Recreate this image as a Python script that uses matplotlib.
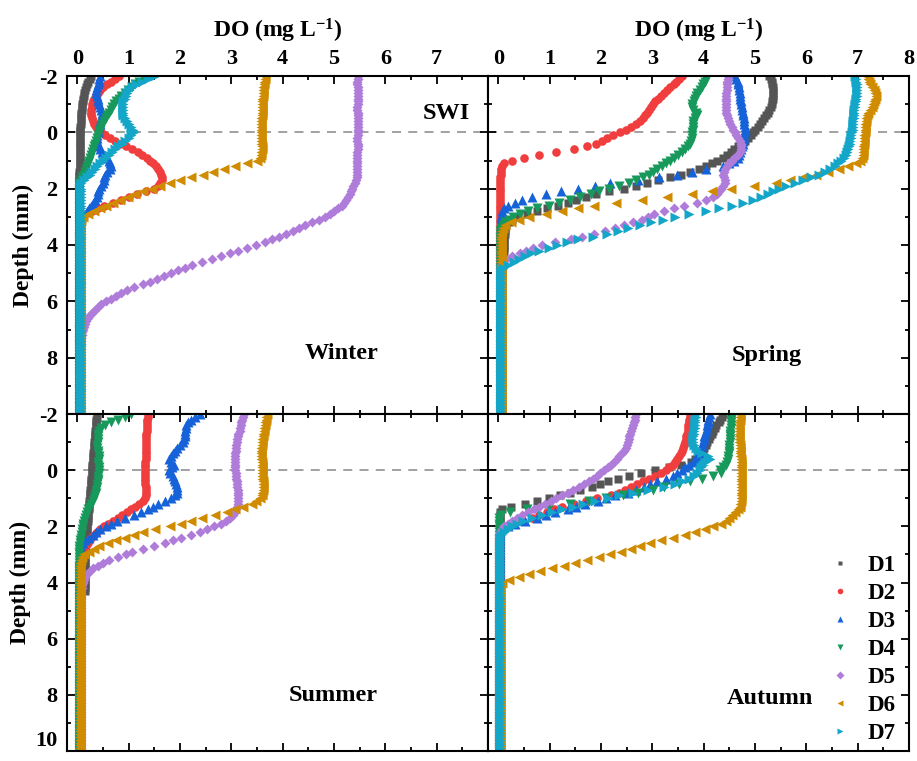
import numpy as np
import matplotlib.pyplot as plt
from matplotlib.ticker import MultipleLocator, FixedLocator

# Глубина, мм (шаг 0.1 мм, от -2 до 10)
depth = np.round(np.arange(-2.0, 10.05, 0.1), 1)

names = ['D1', 'D2', 'D3', 'D4', 'D5', 'D6', 'D7']
markers = ['s', 'o', '^', 'v', 'D', '<', '>']
colors = ['#555555', '#F03E3E', '#1662D8', '#17995C', '#B07CDA', '#D08C00', '#13A6C8']
sizes = [5.5, 6.2, 7.5, 7.5, 5.6, 7.5, 7.5]

# ---------------- Winter ----------------
winter_d1 = [
    0.27, 0.24, 0.21, 0.19, 0.17, 0.15, 0.14, 0.13, 0.12, 0.11,
    0.10, 0.09, 0.09, 0.08, 0.08, 0.07, 0.07, 0.07, 0.06, 0.06,
    0.06, 0.06, 0.06, 0.05, 0.05, 0.05, 0.05, 0.05, 0.05, 0.05,
    0.05, 0.05, 0.05, 0.05, 0.04, 0.04, 0.04, 0.04, 0.04, 0.04,
    0.04, 0.04, 0.04, 0.04, 0.04, 0.04, 0.04, 0.04, 0.04, 0.04,
    0.03, 0.03, 0.03, 0.03, 0.03, 0.03, 0.03, 0.03, 0.03, 0.03,
    0.03, 0.03, 0.03, 0.03, 0.03, 0.03, 0.03, 0.03, 0.03, 0.03,
    0.03, 0.03, 0.03, 0.03, 0.03, 0.03, 0.03, 0.03, 0.03, 0.03,
    0.03, 0.03, 0.03, 0.03, 0.03, 0.03, 0.03, 0.03, 0.03, 0.03,
    0.03, 0.03, 0.03, 0.03, 0.03, 0.03, 0.03, 0.03, 0.03, 0.03,
    0.03, 0.03, 0.03, 0.03, 0.03, 0.03, 0.03, 0.03, 0.03, 0.03,
    0.03, 0.03, 0.03, 0.03, 0.03, 0.03, 0.03, 0.03, 0.03, 0.03,
    0.03]
winter_d2 = [
    0.82, 0.74, 0.66, 0.58, 0.51, 0.45, 0.40, 0.36, 0.33, 0.31,
    0.29, 0.28, 0.27, 0.26, 0.27, 0.28, 0.30, 0.33, 0.37, 0.41,
    0.46, 0.54, 0.64, 0.74, 0.84, 0.94, 1.06, 1.18, 1.27, 1.35,
    1.42, 1.48, 1.53, 1.58, 1.62, 1.64, 1.65, 1.65, 1.62, 1.57,
    1.50, 1.33, 1.16, 1.00, 0.86, 0.70, 0.53, 0.40, 0.28, 0.16,
    0.08, 0.05, 0.04, 0.04, 0.04, 0.04, 0.04, 0.04, 0.04, 0.04,
    0.04, 0.04, 0.04, 0.04, 0.04, 0.04, 0.04, 0.04, 0.04, 0.04,
    0.04, 0.04, 0.04, 0.04, 0.04, 0.04, 0.04, 0.04, 0.04, 0.04,
    0.04, 0.04, 0.04, 0.04, 0.04, 0.04, 0.04, 0.04, 0.04, 0.04,
    0.04, 0.04, 0.04, 0.04, 0.04, 0.04, 0.04, 0.04, 0.04, 0.04,
    0.04, 0.04, 0.04, 0.04, 0.04, 0.04, 0.04, 0.04, 0.04, 0.04,
    0.04, 0.04, 0.04, 0.04, 0.04, 0.04, 0.04, 0.04, 0.04, 0.04,
    0.04]
winter_d3 = [
    0.44, 0.43, 0.42, 0.40, 0.38, 0.37, 0.37, 0.38, 0.40, 0.41,
    0.42, 0.44, 0.46, 0.48, 0.48, 0.47, 0.45, 0.44, 0.42, 0.41,
    0.40, 0.39, 0.39, 0.39, 0.40, 0.42, 0.44, 0.48, 0.52, 0.57,
    0.61, 0.64, 0.65, 0.63, 0.58, 0.54, 0.52, 0.53, 0.50, 0.46,
    0.43, 0.41, 0.40, 0.38, 0.35, 0.31, 0.27, 0.23, 0.18, 0.12,
    0.07, 0.05, 0.05, 0.05, 0.05, 0.05, 0.05, 0.05, 0.05, 0.05,
    0.05, 0.05, 0.05, 0.05, 0.05, 0.05, 0.05, 0.05, 0.05, 0.05,
    0.05, 0.05, 0.05, 0.05, 0.05, 0.05, 0.05, 0.05, 0.05, 0.05,
    0.05, 0.05, 0.05, 0.05, 0.05, 0.05, 0.05, 0.05, 0.05, 0.05,
    0.05, 0.05, 0.05, 0.05, 0.05, 0.05, 0.05, 0.05, 0.05, 0.05,
    0.05, 0.05, 0.05, 0.05, 0.05, 0.05, 0.05, 0.05, 0.05, 0.05,
    0.05, 0.05, 0.05, 0.05, 0.05, 0.05, 0.05, 0.05, 0.05, 0.05,
    0.05]
winter_d4 = [
    1.40, 1.30, 1.21, 1.13, 1.06, 0.99, 0.92, 0.86, 0.81, 0.76,
    0.71, 0.68, 0.65, 0.62, 0.58, 0.55, 0.52, 0.49, 0.47, 0.44,
    0.42, 0.40, 0.38, 0.36, 0.34, 0.32, 0.30, 0.28, 0.26, 0.25,
    0.23, 0.21, 0.19, 0.17, 0.15, 0.13, 0.10, 0.07, 0.04, 0.03,
    0.03, 0.03, 0.03, 0.03, 0.03, 0.03, 0.03, 0.03, 0.03, 0.03,
    0.03, 0.03, 0.03, 0.03, 0.03, 0.03, 0.03, 0.03, 0.03, 0.03,
    0.03, 0.03, 0.03, 0.03, 0.03, 0.03, 0.03, 0.03, 0.03, 0.03,
    0.03, 0.03, 0.03, 0.03, 0.03, 0.03, 0.03, 0.03, 0.03, 0.03,
    0.03, 0.03, 0.03, 0.03, 0.03, 0.03, 0.03, 0.03, 0.03, 0.03,
    0.03, 0.03, 0.03, 0.03, 0.03, 0.03, 0.03, 0.03, 0.03, 0.03,
    0.03, 0.03, 0.03, 0.03, 0.03, 0.03, 0.03, 0.03, 0.03, 0.03,
    0.03, 0.03, 0.03, 0.03, 0.03, 0.03, 0.03, 0.03, 0.03, 0.03,
    0.03]
winter_d5 = [
    5.46, 5.46, 5.45, 5.45, 5.46, 5.46, 5.47, 5.47, 5.46, 5.46,
    5.46, 5.45, 5.45, 5.46, 5.46, 5.46, 5.47, 5.47, 5.46, 5.46,
    5.46, 5.46, 5.45, 5.45, 5.46, 5.46, 5.46, 5.45, 5.45, 5.45,
    5.45, 5.45, 5.45, 5.45, 5.45, 5.44, 5.44, 5.42, 5.40, 5.38,
    5.36, 5.34, 5.32, 5.28, 5.24, 5.20, 5.15, 5.08, 5.00, 4.92,
    4.82, 4.70, 4.57, 4.44, 4.32, 4.20, 4.07, 3.93, 3.79, 3.65,
    3.49, 3.31, 3.13, 2.97, 2.80, 2.62, 2.42, 2.23, 2.09, 1.96,
    1.82, 1.68, 1.55, 1.41, 1.28, 1.11, 0.96, 0.85, 0.75, 0.65,
    0.55, 0.47, 0.40, 0.34, 0.29, 0.25, 0.21, 0.17, 0.15, 0.13,
    0.12, 0.10, 0.09, 0.08, 0.07, 0.07, 0.06, 0.06, 0.06, 0.06,
    0.06, 0.06, 0.06, 0.06, 0.06, 0.06, 0.06, 0.06, 0.06, 0.06,
    0.06, 0.06, 0.06, 0.06, 0.06, 0.06, 0.06, 0.06, 0.06, 0.06,
    0.06]
winter_d6 = [
    3.66, 3.65, 3.64, 3.63, 3.62, 3.62, 3.61, 3.61, 3.60, 3.60,
    3.60, 3.59, 3.59, 3.59, 3.59, 3.58, 3.58, 3.58, 3.58, 3.58,
    3.58, 3.58, 3.58, 3.58, 3.58, 3.59, 3.59, 3.58, 3.57, 3.56,
    3.50, 3.30, 3.08, 2.86, 2.64, 2.44, 2.22, 2.00, 1.80, 1.62,
    1.45, 1.28, 1.12, 0.98, 0.84, 0.70, 0.56, 0.44, 0.32, 0.20,
    0.11, 0.07, 0.05, 0.05, 0.05, 0.05, 0.05, 0.05, 0.05, 0.05,
    0.05, 0.05, 0.05, 0.05, 0.05, 0.05, 0.05, 0.05, 0.05, 0.05,
    0.05, 0.05, 0.05, 0.05, 0.05, 0.05, 0.05, 0.05, 0.05, 0.05,
    0.05, 0.05, 0.05, 0.05, 0.05, 0.05, 0.05, 0.05, 0.05, 0.05,
    0.05, 0.05, 0.05, 0.05, 0.05, 0.05, 0.05, 0.05, 0.05, 0.05,
    0.05, 0.05, 0.05, 0.05, 0.05, 0.05, 0.05, 0.05, 0.05, 0.05,
    0.05, 0.05, 0.05, 0.05, 0.05, 0.05, 0.05, 0.05, 0.05, 0.05,
    0.05]
winter_d7 = [
    1.52, 1.38, 1.26, 1.15, 1.06, 1.01, 0.97, 0.94, 0.92, 0.90,
    0.89, 0.89, 0.89, 0.89, 0.90, 0.93, 0.97, 1.01, 1.05, 1.08,
    1.10, 1.05, 1.00, 0.93, 0.87, 0.80, 0.74, 0.67, 0.61, 0.55,
    0.50, 0.44, 0.39, 0.34, 0.29, 0.24, 0.19, 0.14, 0.08, 0.06,
    0.07, 0.07, 0.07, 0.07, 0.07, 0.07, 0.07, 0.07, 0.07, 0.07,
    0.07, 0.07, 0.07, 0.07, 0.07, 0.07, 0.07, 0.07, 0.07, 0.07,
    0.07, 0.07, 0.07, 0.07, 0.07, 0.07, 0.07, 0.07, 0.07, 0.07,
    0.07, 0.07, 0.07, 0.07, 0.07, 0.07, 0.07, 0.07, 0.07, 0.07,
    0.07, 0.07, 0.07, 0.07, 0.07, 0.07, 0.07, 0.07, 0.07, 0.07,
    0.07, 0.07, 0.07, 0.07, 0.07, 0.07, 0.07, 0.07, 0.07, 0.07,
    0.07, 0.07, 0.07, 0.07, 0.07, 0.07, 0.07, 0.07, 0.07, 0.07,
    0.07, 0.07, 0.07, 0.07, 0.07, 0.07, 0.07, 0.07, 0.07, 0.07,
    0.07]

# ---------------- Spring ----------------
spring_d1 = [
    5.28, 5.31, 5.33, 5.34, 5.35, 5.36, 5.36, 5.36, 5.35, 5.34,
    5.33, 5.31, 5.28, 5.25, 5.21, 5.17, 5.13, 5.09, 5.05, 5.01,
    4.96, 4.92, 4.87, 4.81, 4.74, 4.67, 4.60, 4.54, 4.46, 4.37,
    4.27, 4.16, 4.04, 3.90, 3.74, 3.56, 3.34, 3.12, 2.90, 2.68,
    2.45, 2.16, 1.90, 1.70, 1.52, 1.35, 1.16, 0.95, 0.76, 0.55,
    0.38, 0.27, 0.20, 0.16, 0.14, 0.13, 0.13, 0.12, 0.12, 0.12,
    0.11, 0.11, 0.11, 0.10, 0.10, 0.10, 0.10, 0.10, 0.08, 0.08,
    0.08, 0.08, 0.08, 0.08, 0.08, 0.08, 0.08, 0.08, 0.08, 0.08,
    0.08, 0.08, 0.08, 0.08, 0.08, 0.08, 0.08, 0.08, 0.08, 0.08,
    0.08, 0.08, 0.08, 0.08, 0.08, 0.08, 0.08, 0.08, 0.08, 0.08,
    0.08, 0.08, 0.08, 0.08, 0.08, 0.08, 0.08, 0.08, 0.08, 0.08,
    0.08, 0.08, 0.08, 0.08, 0.08, 0.08, 0.08, 0.08, 0.08, 0.08,
    0.08]
spring_d2 = [
    3.58, 3.52, 3.47, 3.42, 3.35, 3.29, 3.23, 3.17, 3.11, 3.06,
    3.01, 2.97, 2.93, 2.89, 2.85, 2.81, 2.76, 2.68, 2.59, 2.49,
    2.38, 2.24, 2.12, 2.02, 1.90, 1.72, 1.48, 1.12, 0.80, 0.50,
    0.26, 0.12, 0.08, 0.06, 0.05, 0.05, 0.04, 0.04, 0.04, 0.04,
    0.03, 0.03, 0.03, 0.03, 0.03, 0.03, 0.03, 0.03, 0.03, 0.03,
    0.03, 0.03, 0.03, 0.03, 0.03, 0.03, 0.03, 0.03, 0.03, 0.03,
    0.03, 0.03, 0.03, 0.03, 0.03, 0.03, 0.03, 0.03, 0.03, 0.03,
    0.03, 0.03, 0.03, 0.03, 0.03, 0.03, 0.03, 0.03, 0.03, 0.03,
    0.03, 0.03, 0.03, 0.03, 0.03, 0.03, 0.03, 0.03, 0.03, 0.03,
    0.03, 0.03, 0.03, 0.03, 0.03, 0.03, 0.03, 0.03, 0.03, 0.03,
    0.03, 0.03, 0.03, 0.03, 0.03, 0.03, 0.03, 0.03, 0.03, 0.03,
    0.03, 0.03, 0.03, 0.03, 0.03, 0.03, 0.03, 0.03, 0.03, 0.03,
    0.03]
spring_d3 = [
    4.62, 4.64, 4.66, 4.67, 4.68, 4.69, 4.70, 4.71, 4.71, 4.72,
    4.73, 4.74, 4.75, 4.76, 4.77, 4.78, 4.79, 4.79, 4.80, 4.80,
    4.80, 4.79, 4.78, 4.77, 4.76, 4.74, 4.72, 4.71, 4.69, 4.66,
    4.60, 4.50, 4.38, 4.05, 3.78, 3.48, 3.14, 2.72, 2.18, 1.88,
    1.55, 1.22, 0.92, 0.66, 0.47, 0.32, 0.19, 0.11, 0.08, 0.07,
    0.06, 0.06, 0.06, 0.06, 0.06, 0.06, 0.06, 0.06, 0.06, 0.06,
    0.06, 0.06, 0.06, 0.06, 0.06, 0.06, 0.06, 0.06, 0.06, 0.06,
    0.06, 0.06, 0.06, 0.06, 0.06, 0.06, 0.06, 0.06, 0.06, 0.06,
    0.06, 0.06, 0.06, 0.06, 0.06, 0.06, 0.06, 0.06, 0.06, 0.06,
    0.06, 0.06, 0.06, 0.06, 0.06, 0.06, 0.06, 0.06, 0.06, 0.06,
    0.06, 0.06, 0.06, 0.06, 0.06, 0.06, 0.06, 0.06, 0.06, 0.06,
    0.06, 0.06, 0.06, 0.06, 0.06, 0.06, 0.06, 0.06, 0.06, 0.06,
    0.06]
spring_d4 = [
    4.07, 4.05, 4.02, 3.99, 3.96, 3.92, 3.88, 3.85, 3.83, 3.81,
    3.78, 3.77, 3.80, 3.86, 3.88, 3.84, 3.80, 3.79, 3.80, 3.79,
    3.78, 3.78, 3.77, 3.76, 3.73, 3.69, 3.64, 3.58, 3.50, 3.42,
    3.35, 3.26, 3.18, 3.10, 3.02, 2.93, 2.82, 2.69, 2.54, 2.36,
    2.16, 1.97, 1.80, 1.60, 1.40, 1.19, 0.98, 0.76, 0.57, 0.42,
    0.29, 0.20, 0.14, 0.09, 0.06, 0.04, 0.04, 0.04, 0.04, 0.04,
    0.04, 0.04, 0.04, 0.04, 0.04, 0.04, 0.04, 0.04, 0.04, 0.04,
    0.04, 0.04, 0.04, 0.04, 0.04, 0.04, 0.04, 0.04, 0.04, 0.04,
    0.04, 0.04, 0.04, 0.04, 0.04, 0.04, 0.04, 0.04, 0.04, 0.04,
    0.04, 0.04, 0.04, 0.04, 0.04, 0.04, 0.04, 0.04, 0.04, 0.04,
    0.04, 0.04, 0.04, 0.04, 0.04, 0.04, 0.04, 0.04, 0.04, 0.04,
    0.04, 0.04, 0.04, 0.04, 0.04, 0.04, 0.04, 0.04, 0.04, 0.04,
    0.04]
spring_d5 = [
    4.47, 4.47, 4.46, 4.46, 4.45, 4.45, 4.44, 4.44, 4.43, 4.43,
    4.43, 4.43, 4.43, 4.44, 4.45, 4.47, 4.49, 4.52, 4.55, 4.58,
    4.61, 4.64, 4.67, 4.70, 4.72, 4.73, 4.72, 4.70, 4.66, 4.60,
    4.55, 4.50, 4.45, 4.41, 4.39, 4.38, 4.39, 4.42, 4.41, 4.37,
    4.34, 4.30, 4.26, 4.18, 4.05, 3.88, 3.62, 3.42, 3.22, 3.04,
    2.92, 2.80, 2.62, 2.45, 2.28, 2.08, 1.86, 1.64, 1.42, 1.10,
    0.85, 0.68, 0.54, 0.43, 0.26, 0.15, 0.09, 0.06, 0.05, 0.05,
    0.05, 0.05, 0.05, 0.05, 0.05, 0.05, 0.05, 0.05, 0.05, 0.05,
    0.05, 0.05, 0.05, 0.05, 0.05, 0.05, 0.05, 0.05, 0.05, 0.05,
    0.05, 0.05, 0.05, 0.05, 0.05, 0.05, 0.05, 0.05, 0.05, 0.05,
    0.05, 0.05, 0.05, 0.05, 0.05, 0.05, 0.05, 0.05, 0.05, 0.05,
    0.05, 0.05, 0.05, 0.05, 0.05, 0.05, 0.05, 0.05, 0.05, 0.05,
    0.05]
spring_d6 = [
    7.18, 7.20, 7.22, 7.25, 7.28, 7.31, 7.34, 7.35, 7.34, 7.32,
    7.30, 7.27, 7.24, 7.21, 7.19, 7.17, 7.16, 7.15, 7.15, 7.14,
    7.14, 7.13, 7.13, 7.12, 7.12, 7.11, 7.11, 7.10, 7.10, 7.08,
    7.04, 6.96, 6.82, 6.64, 6.42, 6.18, 5.94, 5.68, 5.40, 4.98,
    4.54, 4.16, 3.78, 3.28, 2.80, 2.30, 1.87, 1.55, 1.25, 0.92,
    0.60, 0.40, 0.25, 0.14, 0.10, 0.08, 0.06, 0.06, 0.06, 0.06,
    0.06, 0.06, 0.06, 0.06, 0.06, 0.06, 0.06, 0.06, 0.06, 0.06,
    0.06, 0.06, 0.06, 0.06, 0.06, 0.06, 0.06, 0.06, 0.06, 0.06,
    0.06, 0.06, 0.06, 0.06, 0.06, 0.06, 0.06, 0.06, 0.06, 0.06,
    0.06, 0.06, 0.06, 0.06, 0.06, 0.06, 0.06, 0.06, 0.06, 0.06,
    0.06, 0.06, 0.06, 0.06, 0.06, 0.06, 0.06, 0.06, 0.06, 0.06,
    0.06, 0.06, 0.06, 0.06, 0.06, 0.06, 0.06, 0.06, 0.06, 0.06,
    0.06]
spring_d7 = [
    6.95, 6.96, 6.97, 6.98, 6.99, 6.99, 6.99, 6.98, 6.97, 6.96,
    6.95, 6.94, 6.93, 6.93, 6.92, 6.92, 6.91, 6.91, 6.90, 6.90,
    6.89, 6.88, 6.87, 6.86, 6.85, 6.84, 6.82, 6.80, 6.77, 6.73,
    6.68, 6.62, 6.55, 6.46, 6.36, 6.24, 6.10, 5.94, 5.78, 5.60,
    5.46, 5.36, 5.26, 5.12, 4.96, 4.76, 4.55, 4.30, 4.05, 3.72,
    3.45, 3.20, 2.98, 2.76, 2.52, 2.33, 2.12, 1.84, 1.56, 1.34,
    1.14, 0.98, 0.80, 0.64, 0.52, 0.41, 0.30, 0.18, 0.09, 0.06,
    0.05, 0.05, 0.05, 0.05, 0.05, 0.05, 0.05, 0.05, 0.05, 0.05,
    0.05, 0.05, 0.05, 0.05, 0.05, 0.05, 0.05, 0.05, 0.05, 0.05,
    0.05, 0.05, 0.05, 0.05, 0.05, 0.05, 0.05, 0.05, 0.05, 0.05,
    0.05, 0.05, 0.05, 0.05, 0.05, 0.05, 0.05, 0.05, 0.05, 0.05,
    0.05, 0.05, 0.05, 0.05, 0.05, 0.05, 0.05, 0.05, 0.05, 0.05,
    0.05]

# ---------------- Summer (D7 нет) ----------------
summer_d1 = [
    0.38, 0.38, 0.37, 0.37, 0.36, 0.36, 0.35, 0.35, 0.34, 0.34,
    0.33, 0.33, 0.32, 0.32, 0.31, 0.31, 0.30, 0.30, 0.29, 0.29,
    0.28, 0.28, 0.28, 0.27, 0.27, 0.26, 0.26, 0.25, 0.25, 0.24,
    0.24, 0.23, 0.23, 0.22, 0.22, 0.21, 0.21, 0.20, 0.20, 0.19,
    0.19, 0.18, 0.18, 0.17, 0.17, 0.17, 0.16, 0.16, 0.16, 0.15,
    0.15, 0.15, 0.15, 0.15, 0.15, 0.15, 0.15, 0.15, 0.15, 0.15,
    0.15, 0.15, 0.15, 0.15]
summer_d2 = [
    1.38, 1.37, 1.36, 1.36, 1.35, 1.35, 1.35, 1.34, 1.34, 1.34,
    1.34, 1.34, 1.33, 1.33, 1.33, 1.33, 1.33, 1.32, 1.32, 1.32,
    1.32, 1.32, 1.32, 1.32, 1.32, 1.32, 1.33, 1.33, 1.33, 1.33,
    1.32, 1.28, 1.20, 1.12, 1.04, 0.96, 0.88, 0.80, 0.70, 0.60,
    0.52, 0.45, 0.38, 0.32, 0.27, 0.23, 0.20, 0.17, 0.14, 0.11,
    0.08, 0.06, 0.05, 0.04, 0.04, 0.04, 0.04, 0.04, 0.04, 0.04,
    0.04, 0.04, 0.04, 0.04, 0.04, 0.04, 0.04, 0.04, 0.04, 0.04,
    0.04, 0.04, 0.04, 0.04, 0.04, 0.04, 0.04, 0.04, 0.04, 0.04,
    0.04, 0.04, 0.04, 0.04, 0.04, 0.04, 0.04, 0.04, 0.04, 0.04,
    0.04, 0.04, 0.04, 0.04, 0.04, 0.04, 0.04, 0.04, 0.04, 0.04,
    0.04, 0.04, 0.04, 0.04, 0.04, 0.04, 0.04, 0.04, 0.04, 0.04,
    0.04, 0.04, 0.04, 0.04, 0.04, 0.04, 0.04, 0.04, 0.04, 0.04,
    0.04]
summer_d3 = [
    2.39, 2.30, 2.22, 2.16, 2.12, 2.11, 2.10, 2.10, 2.09, 2.08,
    2.05, 2.00, 1.95, 1.90, 1.86, 1.82, 1.79, 1.83, 1.88, 1.84,
    1.78, 1.80, 1.86, 1.89, 1.91, 1.93, 1.94, 1.94, 1.94, 1.90,
    1.82, 1.70, 1.58, 1.47, 1.37, 1.25, 1.10, 0.92, 0.78, 0.65,
    0.55, 0.45, 0.37, 0.30, 0.22, 0.15, 0.11, 0.08, 0.06, 0.05,
    0.05, 0.05, 0.05, 0.05, 0.05, 0.05, 0.05, 0.05, 0.05, 0.05,
    0.05, 0.05, 0.05, 0.05, 0.05, 0.05, 0.05, 0.05, 0.05, 0.05,
    0.05, 0.05, 0.05, 0.05, 0.05, 0.05, 0.05, 0.05, 0.05, 0.05,
    0.05, 0.05, 0.05, 0.05, 0.05, 0.05, 0.05, 0.05, 0.05, 0.05,
    0.05, 0.05, 0.05, 0.05, 0.05, 0.05, 0.05, 0.05, 0.05, 0.05,
    0.05, 0.05, 0.05, 0.05, 0.05, 0.05, 0.05, 0.05, 0.05, 0.05,
    0.05, 0.05, 0.05, 0.05, 0.05, 0.05, 0.05, 0.05, 0.05, 0.05,
    0.05]
summer_d4 = [
    1.05, 0.92, 0.80, 0.66, 0.54, 0.47, 0.43, 0.41, 0.40, 0.40,
    0.40, 0.39, 0.39, 0.40, 0.41, 0.42, 0.42, 0.41, 0.41, 0.42,
    0.42, 0.42, 0.41, 0.41, 0.40, 0.39, 0.38, 0.37, 0.36, 0.34,
    0.32, 0.30, 0.27, 0.24, 0.21, 0.19, 0.17, 0.15, 0.13, 0.12,
    0.11, 0.10, 0.09, 0.08, 0.07, 0.06, 0.05, 0.04, 0.03, 0.03,
    0.03, 0.03, 0.03, 0.03, 0.03, 0.03, 0.03, 0.03, 0.03, 0.03,
    0.03, 0.03, 0.03, 0.03, 0.03, 0.03, 0.03, 0.03, 0.03, 0.03,
    0.03, 0.03, 0.03, 0.03, 0.03, 0.03, 0.03, 0.03, 0.03, 0.03,
    0.03, 0.03, 0.03, 0.03, 0.03, 0.03, 0.03, 0.03, 0.03, 0.03,
    0.03, 0.03, 0.03, 0.03, 0.03, 0.03, 0.03, 0.03, 0.03, 0.03,
    0.03, 0.03, 0.03, 0.03, 0.03, 0.03, 0.03, 0.03, 0.03, 0.03,
    0.03, 0.03, 0.03, 0.03, 0.03, 0.03, 0.03, 0.03, 0.03, 0.03,
    0.03]
summer_d5 = [
    3.25, 3.23, 3.21, 3.19, 3.18, 3.17, 3.16, 3.14, 3.13, 3.12,
    3.11, 3.10, 3.09, 3.09, 3.08, 3.08, 3.08, 3.08, 3.08, 3.08,
    3.08, 3.09, 3.09, 3.10, 3.11, 3.11, 3.12, 3.13, 3.14, 3.14,
    3.14, 3.14, 3.13, 3.12, 3.10, 3.07, 3.03, 2.98, 2.90, 2.79,
    2.67, 2.53, 2.40, 2.22, 2.02, 1.86, 1.70, 1.50, 1.28, 1.07,
    0.94, 0.80, 0.62, 0.51, 0.40, 0.31, 0.24, 0.18, 0.15, 0.13,
    0.11, 0.10, 0.09, 0.08, 0.08, 0.08, 0.08, 0.08, 0.08, 0.08,
    0.08, 0.08, 0.08, 0.08, 0.08, 0.08, 0.08, 0.08, 0.08, 0.08,
    0.08, 0.08, 0.08, 0.08, 0.08, 0.08, 0.08, 0.08, 0.08, 0.08,
    0.08, 0.08, 0.08, 0.08, 0.08, 0.08, 0.08, 0.08, 0.08, 0.08,
    0.08, 0.08, 0.08, 0.08, 0.08, 0.08, 0.08, 0.08, 0.08, 0.08,
    0.08, 0.08, 0.08, 0.08, 0.08, 0.08, 0.08, 0.08, 0.08, 0.08,
    0.08]
summer_d6 = [
    3.69, 3.68, 3.67, 3.66, 3.65, 3.64, 3.63, 3.62, 3.61, 3.60,
    3.60, 3.59, 3.58, 3.57, 3.57, 3.57, 3.58, 3.59, 3.60, 3.60,
    3.60, 3.60, 3.60, 3.60, 3.61, 3.61, 3.61, 3.61, 3.60, 3.59,
    3.55, 3.48, 3.40, 3.22, 3.07, 2.92, 2.68, 2.42, 2.22, 2.02,
    1.80, 1.52, 1.29, 1.10, 0.92, 0.75, 0.60, 0.43, 0.32, 0.22,
    0.14, 0.09, 0.07, 0.06, 0.05, 0.05, 0.05, 0.05, 0.05, 0.05,
    0.05, 0.05, 0.05, 0.05, 0.05, 0.05, 0.05, 0.05, 0.05, 0.05,
    0.05, 0.05, 0.05, 0.05, 0.05, 0.05, 0.05, 0.05, 0.05, 0.05,
    0.05, 0.05, 0.05, 0.05, 0.05, 0.05, 0.05, 0.05, 0.05, 0.05,
    0.05, 0.05, 0.05, 0.05, 0.05, 0.05, 0.05, 0.05, 0.05, 0.05,
    0.05, 0.05, 0.05, 0.05, 0.05, 0.05, 0.05, 0.05, 0.05, 0.05,
    0.05, 0.05, 0.05, 0.05, 0.05, 0.05, 0.05, 0.05, 0.05, 0.05,
    0.05]

# ---------------- Autumn ----------------
autumn_d1 = [
    4.38, 4.35, 4.32, 4.29, 4.25, 4.22, 4.19, 4.16, 4.13, 4.10,
    4.07, 4.04, 4.01, 3.98, 3.94, 3.90, 3.84, 3.76, 3.56, 3.32,
    3.05, 2.78, 2.55, 2.34, 2.13, 1.98, 1.82, 1.60, 1.40, 1.20,
    0.98, 0.76, 0.52, 0.24, 0.07, 0.04, 0.03, 0.03, 0.03, 0.03,
    0.03, 0.03, 0.03, 0.03, 0.03, 0.03, 0.03, 0.03, 0.03, 0.03,
    0.03, 0.03, 0.03, 0.03, 0.03, 0.03, 0.03, 0.03, 0.03, 0.03,
    0.03, 0.03, 0.03, 0.03, 0.03, 0.03, 0.03, 0.03, 0.03, 0.03,
    0.03, 0.03, 0.03, 0.03, 0.03, 0.03, 0.03, 0.03, 0.03, 0.03,
    0.03, 0.03, 0.03, 0.03, 0.03, 0.03, 0.03, 0.03, 0.03, 0.03,
    0.03, 0.03, 0.03, 0.03, 0.03, 0.03, 0.03, 0.03, 0.03, 0.03,
    0.03, 0.03, 0.03, 0.03, 0.03, 0.03, 0.03, 0.03, 0.03, 0.03,
    0.03, 0.03, 0.03, 0.03, 0.03, 0.03, 0.03, 0.03, 0.03, 0.03,
    0.03]
autumn_d2 = [
    3.74, 3.73, 3.72, 3.71, 3.70, 3.70, 3.69, 3.68, 3.66, 3.65,
    3.64, 3.62, 3.60, 3.58, 3.55, 3.52, 3.49, 3.45, 3.40, 3.33,
    3.26, 3.16, 3.06, 2.94, 2.82, 2.70, 2.58, 2.47, 2.36, 2.20,
    1.92, 1.70, 1.48, 1.24, 1.08, 0.94, 0.80, 0.66, 0.44, 0.26,
    0.13, 0.06, 0.03, 0.03, 0.03, 0.03, 0.03, 0.03, 0.03, 0.03,
    0.03, 0.03, 0.03, 0.03, 0.03, 0.03, 0.03, 0.03, 0.03, 0.03,
    0.03, 0.03, 0.03, 0.03, 0.03, 0.03, 0.03, 0.03, 0.03, 0.03,
    0.03, 0.03, 0.03, 0.03, 0.03, 0.03, 0.03, 0.03, 0.03, 0.03,
    0.03, 0.03, 0.03, 0.03, 0.03, 0.03, 0.03, 0.03, 0.03, 0.03,
    0.03, 0.03, 0.03, 0.03, 0.03, 0.03, 0.03, 0.03, 0.03, 0.03,
    0.03, 0.03, 0.03, 0.03, 0.03, 0.03, 0.03, 0.03, 0.03, 0.03,
    0.03, 0.03, 0.03, 0.03, 0.03, 0.03, 0.03, 0.03, 0.03, 0.03,
    0.03]
autumn_d3 = [
    4.12, 4.10, 4.09, 4.08, 4.07, 4.06, 4.04, 4.03, 4.01, 4.00,
    3.99, 3.97, 3.95, 3.93, 3.91, 3.87, 3.83, 3.79, 3.72, 3.63,
    3.57, 3.49, 3.40, 3.26, 3.10, 2.96, 2.84, 2.69, 2.52, 2.28,
    2.10, 1.94, 1.68, 1.52, 1.36, 1.10, 0.93, 0.76, 0.52, 0.33,
    0.19, 0.08, 0.04, 0.03, 0.03, 0.03, 0.03, 0.03, 0.03, 0.03,
    0.03, 0.03, 0.03, 0.03, 0.03, 0.03, 0.03, 0.03, 0.03, 0.03,
    0.03, 0.03, 0.03, 0.03, 0.03, 0.03, 0.03, 0.03, 0.03, 0.03,
    0.03, 0.03, 0.03, 0.03, 0.03, 0.03, 0.03, 0.03, 0.03, 0.03,
    0.03, 0.03, 0.03, 0.03, 0.03, 0.03, 0.03, 0.03, 0.03, 0.03,
    0.03, 0.03, 0.03, 0.03, 0.03, 0.03, 0.03, 0.03, 0.03, 0.03,
    0.03, 0.03, 0.03, 0.03, 0.03, 0.03, 0.03, 0.03, 0.03, 0.03,
    0.03, 0.03, 0.03, 0.03, 0.03, 0.03, 0.03, 0.03, 0.03, 0.03,
    0.03]
autumn_d4 = [
    4.55, 4.55, 4.54, 4.54, 4.53, 4.53, 4.52, 4.52, 4.52, 4.51,
    4.51, 4.50, 4.50, 4.49, 4.49, 4.48, 4.47, 4.46, 4.43, 4.38,
    4.32, 4.34, 4.18, 3.96, 3.74, 3.52, 3.22, 3.01, 2.72, 2.42,
    2.10, 1.76, 1.40, 0.98, 0.55, 0.22, 0.05, 0.02, 0.02, 0.02,
    0.02, 0.02, 0.02, 0.02, 0.02, 0.02, 0.02, 0.02, 0.02, 0.02,
    0.02, 0.02, 0.02, 0.02, 0.02, 0.02, 0.02, 0.02, 0.02, 0.02,
    0.02, 0.02, 0.02, 0.02, 0.02, 0.02, 0.02, 0.02, 0.02, 0.02,
    0.02, 0.02, 0.02, 0.02, 0.02, 0.02, 0.02, 0.02, 0.02, 0.02,
    0.02, 0.02, 0.02, 0.02, 0.02, 0.02, 0.02, 0.02, 0.02, 0.02,
    0.02, 0.02, 0.02, 0.02, 0.02, 0.02, 0.02, 0.02, 0.02, 0.02,
    0.02, 0.02, 0.02, 0.02, 0.02, 0.02, 0.02, 0.02, 0.02, 0.02,
    0.02, 0.02, 0.02, 0.02, 0.02, 0.02, 0.02, 0.02, 0.02, 0.02,
    0.02]
autumn_d5 = [
    2.68, 2.67, 2.66, 2.64, 2.62, 2.61, 2.59, 2.57, 2.55, 2.54,
    2.52, 2.50, 2.48, 2.45, 2.41, 2.36, 2.31, 2.26, 2.20, 2.13,
    2.06, 1.99, 1.92, 1.84, 1.76, 1.67, 1.57, 1.46, 1.35, 1.24,
    1.13, 1.02, 0.91, 0.80, 0.69, 0.58, 0.47, 0.36, 0.27, 0.19,
    0.12, 0.07, 0.04, 0.02, 0.02, 0.02, 0.02, 0.02, 0.02, 0.02,
    0.02, 0.02, 0.02, 0.02, 0.02, 0.02, 0.02, 0.02, 0.02, 0.02,
    0.02, 0.02, 0.02, 0.02, 0.02, 0.02, 0.02, 0.02, 0.02, 0.02,
    0.02, 0.02, 0.02, 0.02, 0.02, 0.02, 0.02, 0.02, 0.02, 0.02,
    0.02, 0.02, 0.02, 0.02, 0.02, 0.02, 0.02, 0.02, 0.02, 0.02,
    0.02, 0.02, 0.02, 0.02, 0.02, 0.02, 0.02, 0.02, 0.02, 0.02,
    0.02, 0.02, 0.02, 0.02, 0.02, 0.02, 0.02, 0.02, 0.02, 0.02,
    0.02, 0.02, 0.02, 0.02, 0.02, 0.02, 0.02, 0.02, 0.02, 0.02,
    0.02]
autumn_d6 = [
    4.71, 4.70, 4.70, 4.69, 4.69, 4.68, 4.68, 4.68, 4.68, 4.69,
    4.69, 4.70, 4.70, 4.71, 4.71, 4.71, 4.72, 4.72, 4.72, 4.72,
    4.72, 4.72, 4.72, 4.73, 4.73, 4.73, 4.73, 4.73, 4.73, 4.73,
    4.72, 4.72, 4.71, 4.70, 4.67, 4.62, 4.56, 4.50, 4.44, 4.34,
    4.19, 4.02, 3.84, 3.64, 3.40, 3.16, 2.96, 2.76, 2.58, 2.40,
    2.18, 1.96, 1.72, 1.50, 1.28, 1.04, 0.82, 0.60, 0.40, 0.20,
    0.08, 0.04, 0.03, 0.03, 0.03, 0.03, 0.03, 0.03, 0.03, 0.03,
    0.03, 0.03, 0.03, 0.03, 0.03, 0.03, 0.03, 0.03, 0.03, 0.03,
    0.03, 0.03, 0.03, 0.03, 0.03, 0.03, 0.03, 0.03, 0.03, 0.03,
    0.03, 0.03, 0.03, 0.03, 0.03, 0.03, 0.03, 0.03, 0.03, 0.03,
    0.03, 0.03, 0.03, 0.03, 0.03, 0.03, 0.03, 0.03, 0.03, 0.03,
    0.03, 0.03, 0.03, 0.03, 0.03, 0.03, 0.03, 0.03, 0.03, 0.03,
    0.03]
autumn_d7 = [
    3.86, 3.85, 3.84, 3.84, 3.83, 3.83, 3.82, 3.81, 3.80, 3.80,
    3.80, 3.82, 3.85, 3.89, 3.96, 4.08, 4.12, 4.02, 3.98, 3.95,
    3.92, 3.88, 3.82, 3.72, 3.58, 3.44, 3.22, 2.92, 2.62, 2.36,
    2.14, 1.88, 1.66, 1.45, 1.24, 1.04, 0.86, 0.66, 0.48, 0.36,
    0.26, 0.18, 0.11, 0.06, 0.03, 0.03, 0.03, 0.03, 0.03, 0.03,
    0.03, 0.03, 0.03, 0.03, 0.03, 0.03, 0.03, 0.03, 0.03, 0.03,
    0.03, 0.03, 0.03, 0.03, 0.03, 0.03, 0.03, 0.03, 0.03, 0.03,
    0.03, 0.03, 0.03, 0.03, 0.03, 0.03, 0.03, 0.03, 0.03, 0.03,
    0.03, 0.03, 0.03, 0.03, 0.03, 0.03, 0.03, 0.03, 0.03, 0.03,
    0.03, 0.03, 0.03, 0.03, 0.03, 0.03, 0.03, 0.03, 0.03, 0.03,
    0.03, 0.03, 0.03, 0.03, 0.03, 0.03, 0.03, 0.03, 0.03, 0.03,
    0.03, 0.03, 0.03, 0.03, 0.03, 0.03, 0.03, 0.03, 0.03, 0.03,
    0.03]

winter = [winter_d1, winter_d2, winter_d3, winter_d4, winter_d5, winter_d6, winter_d7]
spring = [spring_d1, spring_d2, spring_d3, spring_d4, spring_d5, spring_d6, spring_d7]
summer = [summer_d1, summer_d2, summer_d3, summer_d4, summer_d5, summer_d6, None]
autumn = [autumn_d1, autumn_d2, autumn_d3, autumn_d4, autumn_d5, autumn_d6, autumn_d7]

# Оформление
plt.rcParams['font.family'] = 'Liberation Serif'
plt.rcParams['font.weight'] = 'bold'
plt.rcParams['axes.labelweight'] = 'bold'
plt.rcParams['mathtext.fontset'] = 'custom'
plt.rcParams['mathtext.rm'] = 'Liberation Serif:bold'
plt.rcParams['mathtext.it'] = 'Liberation Serif:bold'
plt.rcParams['mathtext.bf'] = 'Liberation Serif:bold'
plt.rcParams['axes.unicode_minus'] = False

W, H = 917, 761
fig = plt.figure(figsize=(W / 100, H / 100), dpi=100)
ax_w = fig.add_axes([67 / W, 1 - 414 / H, 421 / W, 338 / H])
ax_s = fig.add_axes([488 / W, 1 - 414 / H, 421 / W, 338 / H])
ax_u = fig.add_axes([67 / W, 1 - 751 / H, 421 / W, 337 / H])
ax_a = fig.add_axes([488 / W, 1 - 751 / H, 421 / W, 337 / H])

panels = [
    (ax_w, winter, 'Winter', (0.651, 0.178), True, True),
    (ax_s, spring, 'Spring', (0.663, 0.172), True, False),
    (ax_u, summer, 'Summer', (0.632, 0.166), False, True),
    (ax_a, autumn, 'Autumn', (0.670, 0.157), False, False),
]

for ax, season, title, pos, top_row, left_col in panels:
    ax.axhline(0, color='#9a9a9a', ls=(0, (5, 4)), lw=1.3, zorder=0)
    for i, vals in enumerate(season):
        if vals is None:
            continue
        n = min(len(vals), len(depth))
        ax.plot(vals[:n], depth[:n], ls='none', marker=markers[i], ms=sizes[i],
                color=colors[i], mec='none', label=names[i])

    ax.set_xlim(-0.2, 8.0)
    ax.set_ylim(10, -2)
    if left_col:
        ax.xaxis.set_major_locator(FixedLocator(range(0, 8)))
    else:
        ax.xaxis.set_major_locator(FixedLocator(range(0, 9)))
    ax.xaxis.set_minor_locator(MultipleLocator(0.5))
    if top_row:
        ax.yaxis.set_major_locator(FixedLocator([-2, 0, 2, 4, 6, 8]))
    else:
        ax.yaxis.set_major_locator(FixedLocator([-2, 0, 2, 4, 6, 8, 10]))
    ax.yaxis.set_minor_locator(MultipleLocator(1))

    ax.tick_params(which='both', direction='in', top=True, bottom=True,
                   left=True, right=True, width=1.3,
                   labeltop=top_row, labelbottom=False,
                   labelleft=left_col, labelright=False, labelsize=16)
    ax.tick_params(which='major', length=5.5)
    ax.tick_params(which='minor', length=3)
    ax.tick_params(axis='x', pad=5)
    ax.tick_params(axis='y', pad=7)
    for sp in ax.spines.values():
        sp.set_linewidth(1.5)

    if top_row:
        ax.xaxis.set_label_position('top')
        ax.set_xlabel('DO (mg L$^{-1}$)', fontsize=17, labelpad=8)
    if left_col:
        ax.set_ylabel('Depth (mm)', fontsize=17, labelpad=3)

    ax.text(pos[0], pos[1], title, transform=ax.transAxes, ha='center',
            va='center', fontsize=17.5, fontweight='bold')

ax_w.text(0.90, 0.89, 'SWI', transform=ax_w.transAxes, ha='center',
          va='center', fontsize=17.5, fontweight='bold')

ax_a.legend(loc='lower right', bbox_to_anchor=(0.995, -0.012), frameon=False,
            fontsize=16.5, handlelength=1.0, handletextpad=0.7,
            labelspacing=0.3, markerscale=0.65, borderaxespad=0.1)

# подпись "10" внизу поднимаем, чтобы не обрезалась краем
fig.canvas.draw()
ax_u.yaxis.get_major_ticks()[-1].label1.set_verticalalignment('bottom')

fig.savefig('out.png', dpi=100)
